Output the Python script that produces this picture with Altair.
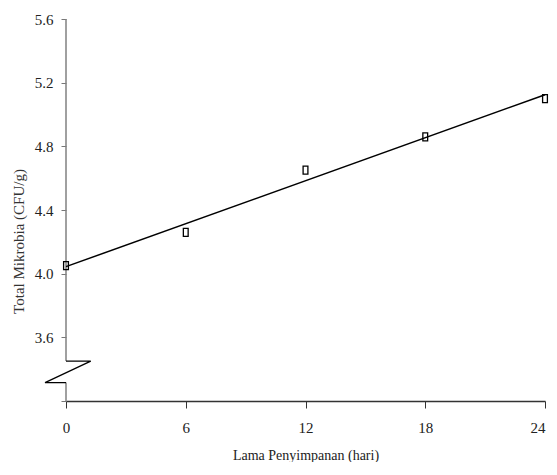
import altair as alt
import pandas as pd

# Data
days = [0, 6, 12, 18, 24]
total_mikrobia = [4.05, 4.26, 4.65, 4.86, 5.10]

# Axis-break decoration (data units)
axis_x = [0, 0, 0, 0]
axis_y = [5.6, 3.451, 3.316, 3.2]
axis_seg = ["a", "a", "b", "b"]
zig_x = [0, 1.24, -1.05, 0]
zig_y = [3.451, 3.451, 3.316, 3.316]

y_ticks = [3.2, 3.6, 4.0, 4.4, 4.8, 5.2, 5.6]
x_ticks = [0, 6, 12, 18, 24]

df = pd.DataFrame({"hari": days, "tpc": total_mikrobia})
axis_df = pd.DataFrame({"x": axis_x, "y": axis_y, "seg": axis_seg, "o": list(range(len(axis_x)))})
zig_df = pd.DataFrame({"x": zig_x, "y": zig_y, "o": list(range(len(zig_x)))})

FONT = "Liberation Serif"

xscale = alt.Scale(domain=[0, 24], nice=False, zero=False)
yscale = alt.Scale(domain=[3.2, 5.6], nice=False, zero=False)

xenc = alt.X(
    "hari:Q",
    scale=xscale,
    axis=alt.Axis(
        title="Lama Penyimpanan (hari)",
        values=x_ticks,
        format="d",
        grid=False,
        domainColor="#333333",
        domainWidth=1.3,
        tickColor="#333333",
        tickSize=7,
        labelPadding=12,
        labelAlign=alt.ConditionalAxisLabelAlign(
            condition={"test": "datum.value >= 24", "value": "right"}, value="center"
        ),
        labelFont=FONT,
        labelFontSize=15,
        labelColor="#222222",
        titleFont=FONT,
        titleFontSize=14,
        titleFontWeight="normal",
        titleColor="#222222",
        titlePadding=13,
    ),
)
yenc = alt.Y(
    "tpc:Q",
    scale=yscale,
    axis=alt.Axis(
        title="Total Mikrobia (CFU/g)",
        values=y_ticks,
        labelExpr="datum.value < 3.3 ? '' : format(datum.value, '.1f')",
        grid=False,
        domain=False,
        tickColor="#777777",
        tickSize=5,
        labelPadding=8,
        labelFont=FONT,
        labelFontSize=15,
        labelColor="#222222",
        titleFont=FONT,
        titleFontSize=15,
        titleFontWeight="normal",
        titleColor="#333333",
        titlePadding=8,
        titleY=222,
    ),
)

points = alt.Chart(df).mark_point(
    shape="M-0.6,-1H0.6V1H-0.6Z",
    size=64,
    filled=False,
    color="black",
    strokeWidth=1.3,
    opacity=1,
).encode(x=xenc, y=yenc)

trend = (
    alt.Chart(df)
    .transform_regression("hari", "tpc", extent=[0, 24])
    .mark_line(color="black", strokeWidth=1.5)
    .encode(x=alt.X("hari:Q", scale=xscale), y=alt.Y("tpc:Q", scale=yscale))
)

axis_line = alt.Chart(axis_df).mark_line(color="#808080", strokeWidth=1.5).encode(
    x=alt.X("x:Q", scale=xscale),
    y=alt.Y("y:Q", scale=yscale),
    detail="seg:N",
    order="o:Q",
)

zigzag = alt.Chart(zig_df).mark_line(color="black", strokeWidth=1.3).encode(
    x=alt.X("x:Q", scale=xscale),
    y=alt.Y("y:Q", scale=yscale),
    order="o:Q",
)

chart = (
    alt.layer(axis_line, zigzag, trend, points)
    .properties(
        width=479,
        height=382,
        autosize=alt.AutoSizeParams(type="none"),
        padding={"left": 58, "top": 11, "right": 4, "bottom": 61},
        background="white",
    )
    .configure_view(stroke=None)
)

chart.save("out.html", embed_options={"renderer": "svg", "actions": False})
